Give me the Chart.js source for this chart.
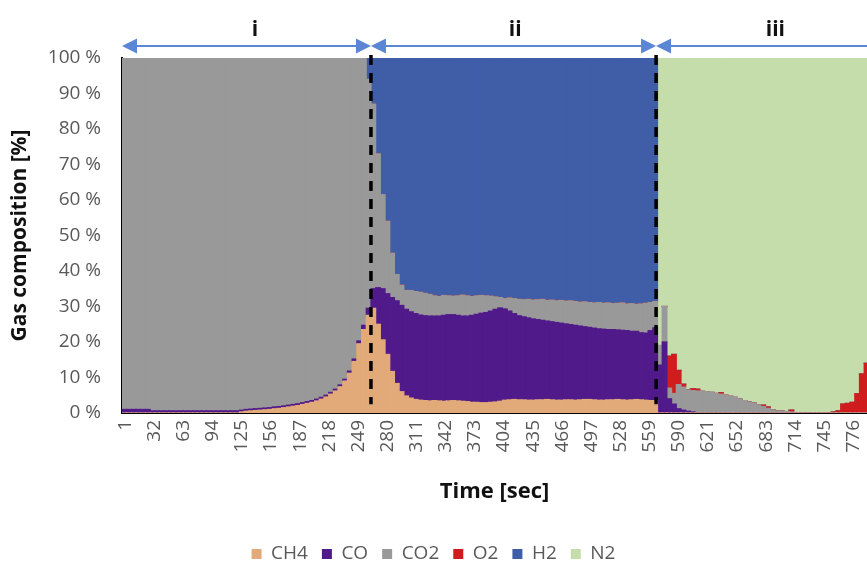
<!DOCTYPE html>
<html>
<head>
<meta charset="utf-8">
<title>Gas composition</title>
<script src="https://cdn.jsdelivr.net/npm/chart.js@4.4.0/dist/chart.umd.min.js"></script>
<style>
  html, body { margin: 0; padding: 0; background: #fff; }
  #wrap { width: 867px; height: 562px; position: relative; }
</style>
</head>
<body>
<div id="wrap"><canvas id="gasChart"></canvas></div>
<script>
// gas composition [%], one value every 5 s (3, 8, 13 ... 793 s)
const ch4 = [
  0, 0, 0, 0, 0, 0, 0, 0, 0, 0,
  0, 0, 0, 0, 0, 0, 0, 0, 0, 0,
  0, 0, 0, 0, 0, 0.3, 0.5, 0.6, 0.7, 0.8,
  0.9, 1.0, 1.2, 1.3, 1.5, 1.7, 1.9, 2.1, 2.4, 2.7,
  3.0, 3.4, 3.9, 4.5, 5.3, 6.2, 7.4, 9.0, 11.2, 14.5,
  19.5, 23.5, 27.5, 29.5, 25, 20.6, 16.5, 11.7, 8.3, 6.0,
  4.8, 4.2, 3.8, 3.6, 3.5, 3.4, 3.5, 3.4, 3.3, 3.4,
  3.5, 3.4, 3.3, 3.2, 3.0, 3.0, 2.9, 2.9, 3.0, 3.1,
  3.3, 3.6, 3.7, 3.8, 3.7, 3.7, 3.6, 3.6, 3.7, 3.7,
  3.8, 3.7, 3.6, 3.6, 3.7, 3.7, 3.6, 3.7, 3.8, 3.8,
  3.7, 3.6, 3.6, 3.7, 3.7, 3.8, 3.7, 3.6, 3.7, 3.8,
  3.7, 3.6, 3.5, 3.5, 0, 0, 0, 0, 0, 0,
  0, 0, 0, 0, 0, 0, 0, 0, 0, 0,
  0, 0, 0, 0, 0, 0, 0, 0, 0, 0,
  0, 0, 0, 0, 0, 0, 0, 0, 0, 0,
  0, 0, 0, 0, 0, 0, 0, 0, 0
];
const co = [
  1.0, 1.0, 1.0, 1.0, 1.0, 1.0, 0.6, 0.6, 0.6, 0.6,
  0.6, 0.6, 0.6, 0.6, 0.6, 0.6, 0.6, 0.6, 0.6, 0.6,
  0.6, 0.6, 0.6, 0.6, 0.6, 0.5, 0.5, 0.5, 0.5, 0.5,
  0.5, 0.5, 0.5, 0.5, 0.5, 0.5, 0.5, 0.5, 0.5, 0.5,
  0.5, 0.5, 0.5, 0.5, 0.5, 0.5, 0.5, 0.5, 0.6, 0.7,
  0.8, 1.2, 2.0, 5.5, 10.3, 14.4, 17.1, 20.8, 23.3, 24.3,
  24.4, 24.3, 24.2, 24.0, 23.9, 23.9, 23.8, 23.9, 24.2, 24.3,
  24.2, 24.1, 24.0, 24.1, 24.5, 24.8, 25.2, 25.4, 25.7, 26.1,
  26.3, 25.7, 25.0, 24.2, 23.7, 23.4, 23.2, 22.9, 22.6, 22.4,
  22.1, 22.0, 21.9, 21.7, 21.4, 21.2, 21.1, 20.8, 20.5, 20.3,
  20.2, 20.1, 20.0, 19.8, 19.8, 19.6, 19.6, 19.6, 19.3, 19.2,
  18.9, 18.9, 19.7, 20.5, 13.5, 20, 4, 2.5, 1.2, 0.8,
  0.5, 0.3, 0, 0, 0, 0, 0, 0, 0, 0,
  0, 0, 0, 0, 0, 0, 0, 0, 0, 0,
  0, 0, 0, 0, 0, 0, 0, 0, 0, 0,
  0, 0, 0, 0, 0, 0, 0, 0, 0
];
const co2 = [
  99.0, 99.0, 99.0, 99.0, 99.0, 99.0, 99.4, 99.4, 99.4, 99.4,
  99.4, 99.4, 99.4, 99.4, 99.4, 99.4, 99.4, 99.4, 99.4, 99.4,
  99.4, 99.4, 99.4, 99.4, 99.4, 99.2, 99.0, 98.9, 98.8, 98.7,
  98.6, 98.5, 98.3, 98.2, 98.0, 97.8, 97.6, 97.4, 97.1, 96.8,
  96.5, 96.1, 95.6, 95.0, 94.2, 93.3, 92.1, 90.5, 88.2, 84.8,
  79.7, 75.3, 64.5, 52.0, 37.7, 26.5, 20.4, 12.5, 7.4, 5.7,
  5.3, 6.0, 6.2, 6.4, 6.3, 6.1, 5.7, 5.5, 5.6, 5.3,
  5.2, 5.5, 5.9, 5.7, 5.3, 5.2, 5.0, 4.7, 4.2, 3.5,
  2.9, 2.9, 3.7, 4.2, 4.6, 4.8, 5.2, 5.3, 5.6, 5.9,
  5.8, 6.1, 6.1, 6.4, 6.4, 6.7, 6.7, 6.7, 7.0, 7.0,
  7.1, 7.4, 7.3, 7.5, 7.3, 7.5, 7.7, 7.5, 7.8, 7.6,
  8.1, 8.4, 7.9, 7.4, 5.5, 10, 3, 3, 6.8, 6.5,
  6.0, 6.0, 6.2, 6.1, 6.0, 5.8, 5.5, 5.3, 5.0, 4.7,
  4.4, 3.9, 3.5, 3.1, 2.8, 2.3, 1.8, 1.3, 0.9, 0.6,
  0.5, 0.4, 0.3, 0.1, 0, 0, 0, 0, 0, 0,
  0, 0, 0, 0, 0, 0, 0, 0, 0
];
const o2 = [
  0, 0, 0, 0, 0, 0, 0, 0, 0, 0,
  0, 0, 0, 0, 0, 0, 0, 0, 0, 0,
  0, 0, 0, 0, 0, 0, 0, 0, 0, 0,
  0, 0, 0, 0, 0, 0, 0, 0, 0, 0,
  0, 0, 0, 0, 0, 0, 0, 0, 0, 0,
  0, 0, 0, 0, 0, 0, 0, 0, 0, 0,
  0, 0, 0, 0, 0, 0, 0, 0, 0, 0,
  0, 0, 0, 0, 0, 0, 0, 0, 0, 0,
  0, 0, 0, 0, 0, 0, 0, 0, 0, 0,
  0, 0, 0, 0, 0, 0, 0, 0, 0, 0,
  0, 0, 0, 0, 0, 0, 0, 0, 0, 0,
  0, 0, 0, 0, 0, 0, 9, 11, 4, 0.8,
  0, 0.5, 0.5, 0, 0, 0, 0, 0.4, 0, 0,
  0, 0, 0, 0, 0, 0, 0.4, 0.4, 0, 0,
  0, 0, 0.5, 0, 0, 0, 0, 0, 0, 0,
  0, 0.3, 0.6, 2.5, 2.7, 3.0, 5.4, 11, 14
];
const h2 = [
  0, 0, 0, 0, 0, 0, 0, 0, 0, 0,
  0, 0, 0, 0, 0, 0, 0, 0, 0, 0,
  0, 0, 0, 0, 0, 0, 0, 0, 0, 0,
  0, 0, 0, 0, 0, 0, 0, 0, 0, 0,
  0, 0, 0, 0, 0, 0, 0, 0, 0, 0,
  0, 0, 6, 13, 27, 38.5, 46, 55, 61, 64,
  65.5, 65.5, 65.8, 66, 66.3, 66.6, 67, 67.2, 66.9, 67,
  67.1, 67, 66.8, 67, 67.2, 67, 66.9, 67, 67.1, 67.3,
  67.5, 67.8, 67.6, 67.8, 68, 68.1, 68, 68.2, 68.1, 68,
  68.3, 68.2, 68.4, 68.3, 68.5, 68.4, 68.6, 68.8, 68.7, 68.9,
  69, 68.9, 69.1, 69, 69.2, 69.1, 69, 69.3, 69.2, 69.4,
  69.3, 69.1, 68.9, 68.6, 0, 0, 0, 0, 0, 0,
  0, 0, 0, 0, 0, 0, 0, 0, 0, 0,
  0, 0, 0, 0, 0, 0, 0, 0, 0, 0,
  0, 0, 0, 0, 0, 0, 0, 0, 0, 0,
  0, 0, 0, 0, 0, 0, 0, 0, 0
];
const n2 = [
  0, 0, 0, 0, 0, 0, 0, 0, 0, 0,
  0, 0, 0, 0, 0, 0, 0, 0, 0, 0,
  0, 0, 0, 0, 0, 0, 0, 0, 0, 0,
  0, 0, 0, 0, 0, 0, 0, 0, 0, 0,
  0, 0, 0, 0, 0, 0, 0, 0, 0, 0,
  0, 0, 0, 0, 0, 0, 0, 0, 0, 0,
  0, 0, 0, 0, 0, 0, 0, 0, 0, 0,
  0, 0, 0, 0, 0, 0, 0, 0, 0, 0,
  0, 0, 0, 0, 0, 0, 0, 0, 0, 0,
  0, 0, 0, 0, 0, 0, 0, 0, 0, 0,
  0, 0, 0, 0, 0, 0, 0, 0, 0, 0,
  0, 0, 0, 0, 81, 70, 84, 83.5, 88, 91.9,
  93.5, 93.2, 93.3, 93.9, 94.0, 94.2, 94.5, 94.3, 95.0, 95.3,
  95.6, 96.1, 96.5, 96.9, 97.2, 97.7, 97.8, 98.3, 99.1, 99.4,
  99.5, 99.6, 99.2, 99.9, 100, 100, 100, 100, 100, 100,
  100, 99.7, 99.4, 97.5, 97.3, 97.0, 94.6, 89, 86
];

const time = ch4.map((v, i) => 3 + 5 * i);   // sample times [sec]
const timeTicks = [1, 32, 63, 94, 125, 156, 187, 218, 249, 280, 311, 342, 373,
                   404, 435, 466, 497, 528, 559, 590, 621, 652, 683, 714, 745, 776];
const gasNames = ['CH4', 'CO', 'CO2', 'O2', 'H2', 'N2'];
const gasColors = ['#E2AA78', '#501A8A', '#999999', '#D01C1C', '#405EA8', '#C5DDAB'];

// process phases, boundaries in seconds
const phaseNames = ['i', 'ii', 'iii'];
const phaseEdges = [0.5, 265.5, 569, 822];
const phaseLabelAt = [142, 419, 696];

// 100 % stacked: every column scaled to its total
const allGas = [ch4, co, co2, o2, h2, n2];
const totals = time.map((t, i) => allGas.reduce((s, arr) => s + arr[i], 0));

const datasets = allGas.map((arr, g) => ({
  label: gasNames[g],
  data: arr.map((v, i) => ({ x: time[i], y: v / totals[i] * 100 })),
  backgroundColor: gasColors[g],
  borderWidth: 0,
  barPercentage: 1,
  categoryPercentage: 1,
  inflateAmount: 0.6
}));

const phaseMarks = {
  id: 'phaseMarks',
  afterDatasetsDraw(chart) {
    const { ctx, chartArea } = chart;
    const x = chart.scales.x, y = chart.scales.y;
    ctx.save();

    // dashed separators between phases
    ctx.strokeStyle = '#000';
    ctx.lineWidth = 3.5;
    ctx.setLineDash([10, 8]);
    phaseEdges.slice(1, -1).forEach(t => {
      const px = x.getPixelForValue(t);
      ctx.beginPath();
      ctx.moveTo(px, chartArea.top - 3);
      ctx.lineTo(px, y.getPixelForValue(2.5));
      ctx.stroke();
    });
    ctx.setLineDash([]);

    // double headed arrows + phase labels
    const ay = chartArea.top - 12;
    ctx.strokeStyle = '#5A86D5';
    ctx.fillStyle = '#5A86D5';
    ctx.lineWidth = 2;
    for (let i = 0; i < phaseNames.length; i++) {
      const x0 = x.getPixelForValue(phaseEdges[i]);
      const x1 = x.getPixelForValue(phaseEdges[i + 1]);
      ctx.beginPath();
      ctx.moveTo(x0 + 10, ay);
      ctx.lineTo(x1 - 10, ay);
      ctx.stroke();
      ctx.beginPath();
      ctx.moveTo(x0, ay); ctx.lineTo(x0 + 15, ay - 7.5); ctx.lineTo(x0 + 15, ay + 7.5);
      ctx.closePath(); ctx.fill();
      ctx.beginPath();
      ctx.moveTo(x1, ay); ctx.lineTo(x1 - 15, ay - 7.5); ctx.lineTo(x1 - 15, ay + 7.5);
      ctx.closePath(); ctx.fill();
    }
    ctx.fillStyle = '#111';
    ctx.font = 'bold 21px "Open Sans"';
    ctx.textAlign = 'center';
    ctx.textBaseline = 'alphabetic';
    phaseNames.forEach((name, i) => {
      ctx.fillText(name, x.getPixelForValue(phaseLabelAt[i]), 36);
    });
    ctx.restore();
  }
};

Chart.defaults.font.family = '"Open Sans", sans-serif';

new Chart(document.getElementById('gasChart'), {
  type: 'bar',
  data: { datasets: datasets },
  options: {
    responsive: true,
    maintainAspectRatio: false,
    animation: false,
    devicePixelRatio: 1,
    layout: { padding: { top: 58, right: 0, left: 0, bottom: -11.5 } },
    plugins: {
      legend: {
        position: 'bottom',
        labels: {
          boxWidth: 10,
          boxHeight: 10,
          padding: 14,
          color: '#595959',
          font: { size: 19 }
        }
      },
      tooltip: { enabled: false }
    },
    scales: {
      x: {
        type: 'linear',
        stacked: true,
        min: 0.5,
        max: 793.5,
        offset: false,
        grid: { display: false, drawTicks: false },
        border: { display: true, color: '#000', width: 2 },
        afterBuildTicks: scale => { scale.ticks = timeTicks.map(v => ({ value: v })); },
        afterFit: scale => {
          scale.height = 117.5;
          scale.paddingLeft = 0;
          scale.paddingRight = 0;
        },
        ticks: {
          autoSkip: false,
          minRotation: 90,
          maxRotation: 90,
          padding: 7,
          labelOffset: 3,
          color: '#595959',
          font: { size: 19 },
          callback: v => String(v)
        },
        title: {
          display: true,
          text: 'Time [sec]',
          color: '#111',
          font: { size: 22, weight: 'bold' },
          padding: { top: 4, bottom: 26 }
        }
      },
      y: {
        stacked: true,
        min: 0,
        max: 100,
        grid: { display: false, drawTicks: false },
        border: { display: true, color: '#000', width: 2 },
        afterFit: scale => { scale.width = 122; },
        ticks: {
          stepSize: 10,
          padding: 21,
          color: '#595959',
          font: { size: 19 },
          callback: v => v + ' %'
        },
        title: {
          display: true,
          text: 'Gas composition [%]',
          color: '#111',
          font: { size: 21, weight: 'bold' },
          padding: { top: 7, bottom: 0 }
        }
      }
    }
  },
  plugins: [phaseMarks]
});
</script>
</body>
</html>
